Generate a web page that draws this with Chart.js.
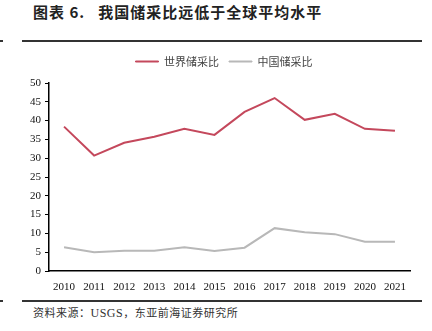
<!DOCTYPE html>
<html><head><meta charset="utf-8">
<script src="https://cdn.jsdelivr.net/npm/chart.js@4/dist/chart.umd.min.js"></script>
<style>
html,body{margin:0;padding:0;background:#fff;width:432px;height:331px;overflow:hidden;position:relative;}
#title{position:absolute;left:33px;top:1px;font-family:"Noto Sans CJK SC";font-weight:bold;font-size:15px;color:#222;letter-spacing:1px;white-space:nowrap;}
.rule{position:absolute;left:22px;width:400px;height:2px;background:#333;}
.dot{position:absolute;left:0;width:3px;height:2px;background:#333;}
#src{position:absolute;left:33px;top:304px;font-family:"Noto Sans CJK SC","Liberation Serif";font-size:11px;color:#333;white-space:nowrap;letter-spacing:0.5px;}
#wrap{position:absolute;left:0;top:0;width:432px;height:331px;}
</style></head><body>
<div id="title">图表 6.&nbsp;&nbsp;&nbsp;我国储采比远低于全球平均水平</div>
<div class="rule" style="top:40px"></div><div class="dot" style="top:40px"></div>
<div class="rule" style="top:300px"></div><div class="dot" style="top:300px"></div>
<div id="src">资料来源：<span style="font-family:'Liberation Serif';font-size:12px">USGS</span>，东亚前海证券研究所</div>
<div id="wrap"><canvas id="c" width="432" height="331"></canvas></div>
<script>
const categories = ["2010","2011","2012","2013","2014","2015","2016","2017","2018","2019","2020","2021"];
const worldRatio = [38.4,30.7,34.1,35.7,37.8,36.2,42.3,46.0,40.2,41.8,37.8,37.3];
const chinaRatio = [6.3,5.0,5.4,5.4,6.3,5.3,6.2,11.4,10.3,9.8,7.8,7.8];
const seriesNames = ["世界储采比","中国储采比"];
const yTicks = [0,5,10,15,20,25,30,35,40,45,50];

const legendTweak = {
  id:'legendTweak',
  afterInit(chart){
    const lg = chart.legend;
    if(!lg) return;
    const orig = lg.fit.bind(lg);
    lg.fit = function(){ orig(); this.height += 6; };
  },
  afterLayout(chart){
    const lg = chart.legend;
    if(!lg) return;
    lg.left += 19; lg.right += 19;
  }
};

new Chart(document.getElementById('c'), {
  type: 'line',
  data: {
    labels: categories,
    datasets: [
      {label: seriesNames[0], data: worldRatio, borderColor:'#C4485C', backgroundColor:'#C4485C', borderWidth:2, pointRadius:0, tension:0},
      {label: seriesNames[1], data: chinaRatio, borderColor:'#B8B8B8', backgroundColor:'#B8B8B8', borderWidth:2, pointRadius:0, tension:0}
    ]
  },
  plugins:[legendTweak],
  options: {
    responsive:false, animation:false,
    layout:{padding:{left:0,right:22,top:46,bottom:0}},
    plugins:{
      legend:{position:'top', labels:{boxWidth:23, boxHeight:1, padding:10, color:'#444', font:{family:'"Noto Sans CJK SC"', size:11},
        generateLabels:(chart)=>Chart.defaults.plugins.legend.labels.generateLabels(chart).map(l=>Object.assign(l,{lineWidth:1}))}},
      tooltip:{enabled:false}
    },
    scales:{
      x:{offset:true, grid:{display:false}, border:{display:true,color:'#000',width:1.5},
         ticks:{color:'#111', font:{family:'"Liberation Serif"', size:11}, padding:2, maxRotation:0},
         afterFit:(s)=>{s.height=60;}},
      y:{min:0,max:50, grid:{display:true,drawOnChartArea:false,drawTicks:true,tickLength:4,color:'#000'},
         border:{display:true,color:'#000',width:1.5},
         afterBuildTicks:(s)=>{s.ticks=yTicks.map(v=>({value:v}));},
         ticks:{color:'#111', font:{family:'"Liberation Serif"', size:11}, padding:4},
         afterFit:(s)=>{s.width=49;}}
    }
  }
});
</script>
</body></html>
